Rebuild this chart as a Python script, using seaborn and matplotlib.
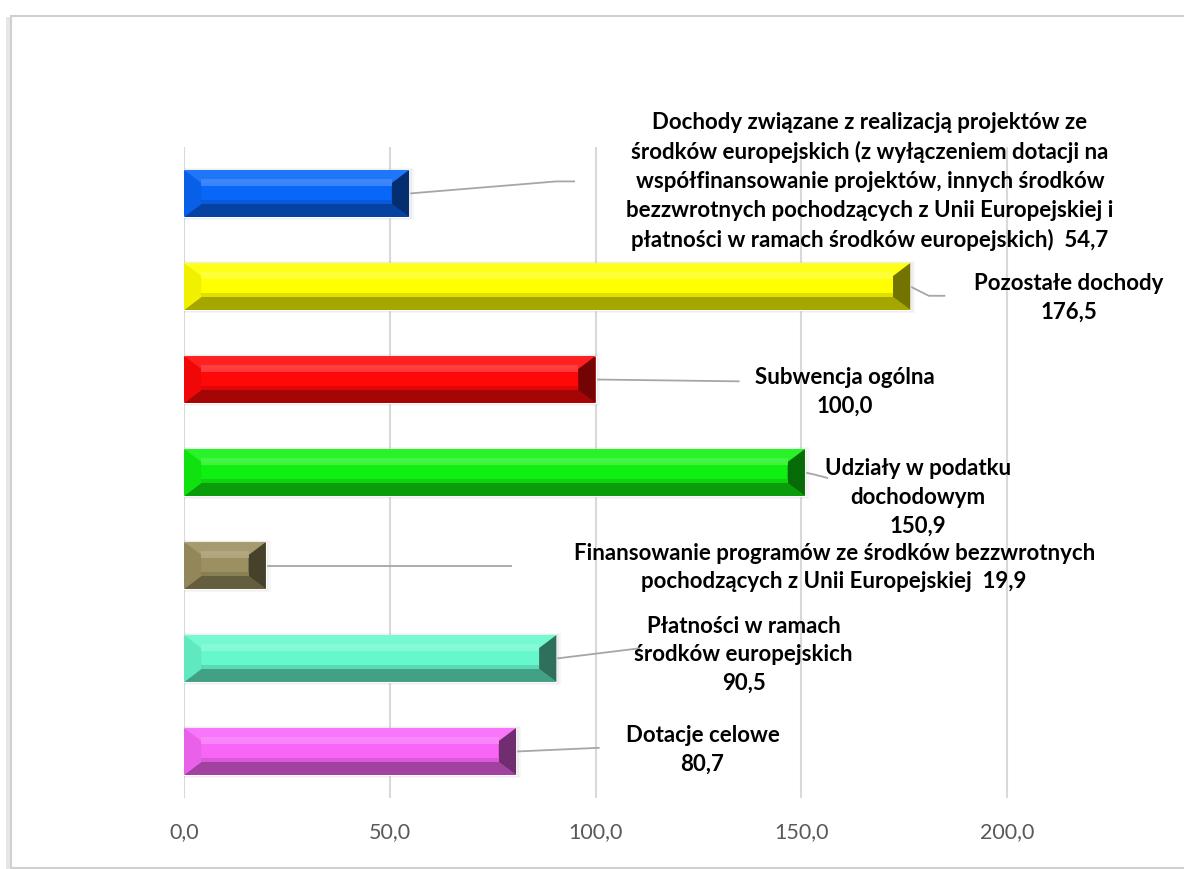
import matplotlib.pyplot as plt
import matplotlib.colors as mcolors
from matplotlib.patches import Polygon, Rectangle
import pandas as pd
import seaborn as sns

categories = [
    'Dochody związane z realizacją projektów ze\nśrodków europejskich (z wyłączeniem dotacji na\n'
    'współfinansowanie projektów, innych środków\nbezzwrotnych pochodzących z Unii Europejskiej i\n'
    'płatności w ramach środków europejskich)',
    'Pozostałe dochody',
    'Subwencja ogólna',
    'Udziały w podatku\ndochodowym',
    'Finansowanie programów ze środków bezzwrotnych\npochodzących z Unii Europejskiej',
    'Płatności w ramach\nśrodków europejskich',
    'Dotacje celowe',
]
values = [54.7, 176.5, 100.0, 150.9, 19.9, 90.5, 80.7]
colors = ['#0866F8', '#FFFF00', '#FF0808', '#10F010', '#9C9060', '#66F8CC', '#F866F8']
# value text goes on the same line or on a new line
inline_value = [True, False, False, False, True, False, False]
# label centre (data x, category y) and leader line points after the bar end
label_pos = [(166.7, -0.13), (215, 1.12), (160.6, 2.13), (178.4, 3.27), (158, 4.02), (136, 4.96), (126, 5.98)]
leader_pts = [
    [(90.5, -0.13), (95, -0.13)],
    [(181, 1.1), (185, 1.1)],
    [(135, 2.02)],
    [(153, 3.02), (156.5, 3.06)],
    [(79.7, 4.0)],
    [(110.8, 4.89)],
    [(101, 5.96)],
]

df = pd.DataFrame({'cat': categories, 'val': values})

sns.set_style('white')
plt.rcParams['font.family'] = ['Lato', 'DejaVu Sans']

fig = plt.figure(figsize=(11.84, 8.69), dpi=100)
# outer frame of the chart area with a soft shadow on the left
fig.patches.append(Rectangle((6 / 1184, 0.0), 1.1, 1 - 17 / 869, transform=fig.transFigure,
                             facecolor='#e6e6e6', edgecolor='none', zorder=-3))
fig.patches.append(Rectangle((11 / 1184, 1 / 869), 1.1, 1 - 16 / 869 - 1 / 869, transform=fig.transFigure,
                             facecolor='white', edgecolor='#d0d0d0', linewidth=1.5, zorder=-2))

ax = fig.add_axes([184 / 1184, 71 / 869, 1028.75 / 1184, 651 / 869])
ax.patch.set_alpha(0)
sns.barplot(data=df, x='val', y='cat', hue='cat', palette=colors, legend=False,
            orient='h', width=0.505, ax=ax, saturation=1, zorder=3)

ax.set_xlim(0, 250)
ax.set_ylim(6.5, -0.5)
ax.set_xticks([0, 50, 100, 150, 200, 250])
ax.set_xticklabels(['0,0', '50,0', '100,0', '150,0', '200,0', ''])
ax.tick_params(axis='x', length=0, pad=17, labelsize=15.5, labelcolor='#595959')
ax.set_yticks([])
ax.set_xlabel('')
ax.set_ylabel('')
ax.grid(axis='x', color='#d9d9d9', linewidth=1.5, zorder=0)
for s in ax.spines.values():
    s.set_visible(False)


def mix(c, other, t):
    a = mcolors.to_rgb(c)
    b = mcolors.to_rgb(other)
    return tuple(a[i] * (1 - t) + b[i] * t for i in range(3))


# bevel look of the bars
bx, by = 4.2, 0.14
for p, c in zip(ax.patches, colors):
    x0, y0 = p.get_x(), p.get_y()
    x1, y1 = x0 + p.get_width(), y0 + p.get_height()
    b = min(bx, p.get_width() / 2)
    # soft shadow around the bar
    for k, a in [(1.2, 0.08), (0.6, 0.12)]:
        ax.add_patch(Rectangle((x0, y0 - 0.02 * k), p.get_width() + k, p.get_height() + 0.05 * k,
                               facecolor='#999999', edgecolor='none', alpha=a, zorder=2.5))
    faces = [
        ([(x0, y0), (x1, y0), (x1 - b, y0 + by), (x0 + b, y0 + by)], mix(c, 'white', 0.1)),
        ([(x0, y1), (x1, y1), (x1 - b, y1 - by), (x0 + b, y1 - by)], mix(c, 'black', 0.35)),
        ([(x0, y0), (x0 + b, y0 + by), (x0 + b, y1 - by), (x0, y1)], mix(c, 'black', 0.06)),
        ([(x1, y0), (x1 - b, y0 + by), (x1 - b, y1 - by), (x1, y1)], mix(c, 'black', 0.55)),
    ]
    for pts, fc in faces:
        ax.add_patch(Polygon(pts, closed=True, facecolor=fc, edgecolor='none', zorder=4))
    # light band near the top
    ax.add_patch(Rectangle((x0 + b, y0 + by - 0.04), p.get_width() - 2 * b, 0.07,
                           facecolor=mix(c, 'white', 0.25), edgecolor='none', zorder=4, alpha=0.8))
    # darker band near the bottom
    ax.add_patch(Rectangle((x0 + b, y1 - by - 0.04), p.get_width() - 2 * b, 0.04,
                           facecolor=mix(c, 'black', 0.12), edgecolor='none', zorder=4))

for i, (cat, v) in enumerate(zip(categories, values)):
    vs = f'{v:.1f}'.replace('.', ',')
    txt = f'{cat}  {vs}' if inline_value[i] else f'{cat}\n{vs}'
    xs = [v] + [pt[0] for pt in leader_pts[i]]
    ys = [i] + [pt[1] for pt in leader_pts[i]]
    ax.plot(xs, ys, color='#a6a6a6', linewidth=1.3, zorder=2, solid_capstyle='butt')
    lx, ly = label_pos[i]
    ax.text(lx, ly, txt, ha='center', va='center', fontsize=16, fontweight='bold',
            color='black', linespacing=1.45, zorder=5)

fig.savefig('out.png', dpi=100)
